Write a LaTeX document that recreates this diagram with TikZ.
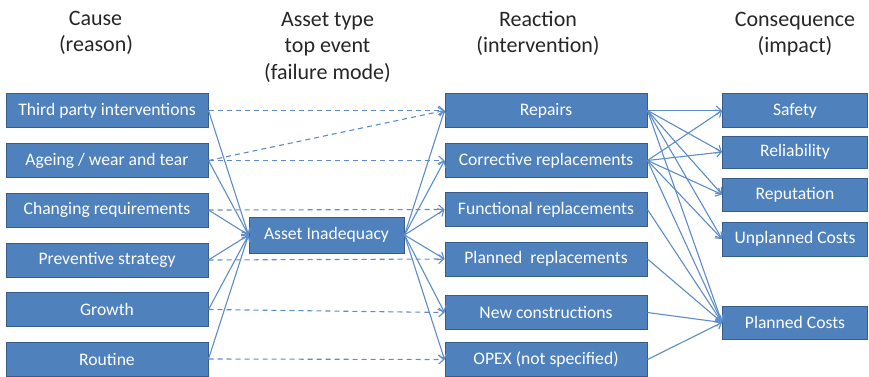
\documentclass[tikz,border=0pt]{standalone}
\usepackage{fontspec}
\setmainfont{Carlito}
\usetikzlibrary{arrows.meta}
\definecolor{boxfill}{RGB}{79,129,189}
\definecolor{boxline}{RGB}{56,93,138}
\definecolor{linkc}{RGB}{92,140,204}
\begin{document}
\begin{tikzpicture}[x=1pt,y=-1pt,
  box/.style={draw=boxline, line width=1pt, fill=boxfill, text=white,
    font=\fontsize{17.6}{20}\selectfont, minimum height=34pt, inner sep=0pt},
  widebox/.style={box, minimum width=202pt},
  midbox/.style={box, minimum width=155pt, minimum height=36pt},
  conbox/.style={box, minimum width=145pt},
  head/.style={font=\fontsize{22}{26}\selectfont, anchor=base, text=black!85},
  link/.style={draw=linkc, line width=1.1pt, -{Straight Barb[length=5pt,width=9pt]}},
  dlink/.style={link, dash pattern=on 5pt off 4pt}]
\useasboundingbox (0,0) rectangle (869,377);

% column headings
\node[head] (hc1) at (95.5,26) {Cause};
\node[head] (hc2) at (96,52) {(reason)};
\node[head] (ha1) at (327.5,26.5) {Asset type};
\node[head] (ha2) at (327.5,52.5) {top event};
\node[head] (ha3) at (327.5,79.5) {(failure mode)};
\node[head] (hr1) at (538,26.5) {Reaction};
\node[head] (hr2) at (538,52.5) {(intervention)};
\node[head] (hq1) at (795,26.5) {Consequence};
\node[head] (hq2) at (795,52.5) {(impact)};

% causes
\node[widebox] (c1) at (107,110.5) {Third party interventions};
\node[widebox] (c2) at (107,160.5) {Ageing / wear and tear};
\node[widebox] (c3) at (107,210) {Changing requirements};
\node[widebox] (c4) at (107,260) {Preventive strategy};
\node[widebox] (c5) at (107,309.5) {Growth};
\node[widebox] (c6) at (107,359) {Routine};

% top event
\node[midbox] (ai) at (326.5,235) {Asset Inadequacy};

% reactions
\node[widebox] (r1) at (546,110.5) {Repairs};
\node[widebox] (r2) at (546,160.5) {Corrective replacements};
\node[widebox] (r3) at (546,209.5) {Functional replacements};
\node[widebox] (r4) at (546,259) {Planned\ \ replacements};
\node[widebox] (r5) at (546,312.5) {New constructions};
\node[widebox] (r6) at (546,359.5) {OPEX (not specified)};

% consequences
\node[conbox] (q1) at (795,110.5) {Safety};
\node[conbox, minimum height=32pt] (q2) at (795,152) {Reliability};
\node[conbox, minimum height=33pt] (q3) at (795,194.5) {Reputation};
\node[conbox] (q4) at (795,239) {Unplanned Costs};
\node[conbox, minimum height=33pt] (q5) at (795,322.5) {Planned Costs};

% causes -> top event
\foreach \c in {c1,c2,c3,c4,c5,c6}
  \draw[link] (\c.east) -- (ai.west);

% top event -> reactions
\foreach \r in {r1,r2,r3,r4,r5,r6}
  \draw[link] (ai.east) -- (\r.west);

% direct cause -> reaction paths
\draw[dlink] (c1.east) -- (r1.west);
\draw[dlink] (c2.east) -- (r1.west);
\draw[dlink] (c2.east) -- (r2.west);
\draw[dlink] (c3.east) -- (r3.west);
\draw[dlink] (c4.east) -- (r4.west);
\draw[dlink] (c5.east) -- (r5.west);
\draw[dlink] (c6.east) -- (r6.west);

% reactions -> consequences
\foreach \r in {r1,r2}
  \foreach \q in {q1,q2,q3,q4,q5}
    \draw[link] (\r.east) -- (\q.west);
\foreach \r in {r3,r4,r5,r6}
  \draw[link] (\r.east) -- (q5.west);
\end{tikzpicture}
\end{document}
